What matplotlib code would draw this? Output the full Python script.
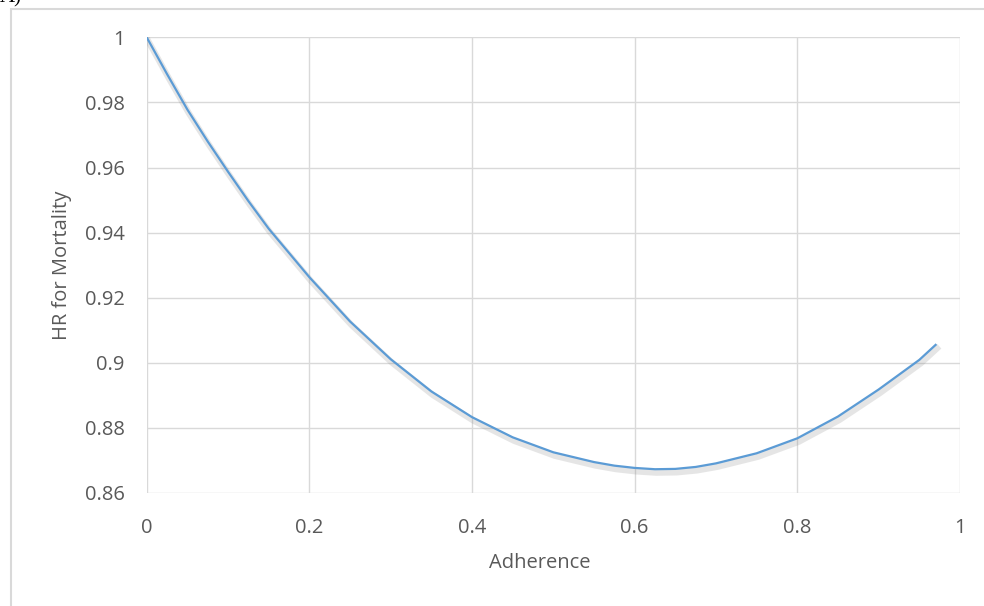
import matplotlib.pyplot as plt
import matplotlib.patheffects as pe
from matplotlib.patches import Rectangle

# values
adherence = [0.00, 0.025, 0.05, 0.075, 0.10, 0.125, 0.15, 0.20, 0.25, 0.30, 0.35,
             0.40, 0.45, 0.50, 0.55, 0.575, 0.60, 0.625, 0.65, 0.675, 0.70,
             0.75, 0.80, 0.85, 0.90, 0.95, 0.97]
hr_mortality = [1.000, 0.9887, 0.9778, 0.9680, 0.9587, 0.9497, 0.9412, 0.9263,
                0.9127, 0.9011, 0.8912, 0.8833, 0.8771, 0.8725, 0.8695, 0.8684,
                0.8677, 0.8673, 0.8674, 0.8680, 0.8691, 0.8722, 0.8768, 0.8835,
                0.8918, 0.9009, 0.9055]

x_ticks = [0, 0.2, 0.4, 0.6, 0.8, 1]
y_ticks = [0.86, 0.88, 0.9, 0.92, 0.94, 0.96, 0.98, 1]
x_labels = ['0', '0.2', '0.4', '0.6', '0.8', '1']
y_labels = ['0.86', '0.88', '0.9', '0.92', '0.94', '0.96', '0.98', '1']

plt.rcParams['font.family'] = ['Open Sans', 'DejaVu Sans']
grey = '#595959'

fig = plt.figure(figsize=(9.84, 6.06), dpi=100)
ax = fig.add_axes([0.1491, 0.1865, 0.8265, 0.7519])

# outer chart border (cut off on the right and bottom, like the source)
fig.patches.append(Rectangle((11 / 984, -0.1), 1.2, 1 - 9 / 606 + 0.1,
                             transform=fig.transFigure, fill=False,
                             edgecolor='#d9d9d9', linewidth=1.5))
# panel letter, mostly cropped off in the source image
fig.text(0.0, 1 - 2 / 606, 'A)', fontsize=15, family='Liberation Serif',
         va='baseline', ha='left')

ax.plot(adherence, hr_mortality, color='#5b9bd5', linewidth=1.6,
        solid_joinstyle='round',
        path_effects=[pe.SimpleLineShadow(offset=(1, -2.5), shadow_color='#808080',
                                          alpha=0.2, linewidth=4.5),
                      pe.Normal()], zorder=3)

ax.set_xlim(0, 1)
ax.set_ylim(0.86, 1)
ax.set_xticks(x_ticks)
ax.set_xticklabels(x_labels)
ax.set_yticks(y_ticks)
ax.set_yticklabels(y_labels)
ax.grid(True, color='#d9d9d9', linewidth=1.0)
ax.set_axisbelow(True)
for s in ax.spines.values():
    s.set_visible(False)
ax.tick_params(length=0, labelsize=14.5, labelcolor=grey)
ax.tick_params(axis='x', pad=18)
ax.tick_params(axis='y', pad=16)

ax.set_xlabel('Adherence', fontsize=14.5, color=grey)
ax.set_ylabel('HR for Mortality', fontsize=14.5, color=grey)
ax.xaxis.set_label_coords(0.4836, -0.131)
ax.yaxis.set_label_coords(-0.092, 0.5)

fig.savefig('out.png', dpi=100)
